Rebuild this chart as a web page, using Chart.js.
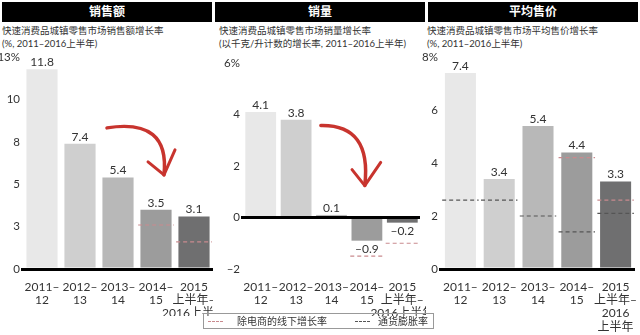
<!DOCTYPE html>
<html>
<head>
<meta charset="utf-8">
<script src="https://cdn.jsdelivr.net/npm/chart.js@4"></script>
<style>
  body { margin: 0; background: #fff; width: 640px; height: 335px; position: relative; overflow: hidden;
         font-family: Lato, 'Noto Sans CJK SC', sans-serif; color: #333; }
  .hd { position: absolute; top: 2px; height: 20px; background: #000; color: #fff; font-weight: bold;
        font-size: 12px; line-height: 20px; text-align: center; }
  .sub { position: absolute; top: 24px; font-size: 9.5px; line-height: 13px; white-space: nowrap; color: #333; }
  canvas { position: absolute; }
  .legend { position: absolute; left: 203px; top: 313px; width: 231px; height: 16px; border: 1px solid #999;
            box-sizing: border-box; font-size: 10px; line-height: 14px; white-space: nowrap; }
  .legend span { position: absolute; top: 0; }
  .legend i { position: absolute; top: 7px; width: 15px; border-top: 1px dashed; }
</style>
</head>
<body>
<div class="hd" style="left:2px;width:210px">销售额</div>
<div class="hd" style="left:215px;width:210px">销量</div>
<div class="hd" style="left:428px;width:210px">平均售价</div>

<div class="sub" style="left:2px">快速消费品城镇零售市场销售额增长率<br>(%, 2011–2016上半年)</div>
<div class="sub" style="left:219px">快速消费品城镇零售市场销量增长率<br>(以千克/升计数的增长率, 2011–2016上半年)</div>
<div class="sub" style="left:427px">快速消费品城镇零售市场平均售价增长率<br>(%, 2011–2016上半年)</div>

<canvas id="c1" width="213" height="276" style="left:0;top:40px"></canvas>
<canvas id="c2" width="213" height="276" style="left:213px;top:40px"></canvas>
<canvas id="c3" width="218" height="292" style="left:422px;top:40px"></canvas>

<div class="legend">
  <i style="left:4px;color:#c98a8e"></i><span style="left:33px">除电商的线下增长率</span>
  <i style="left:151px;color:#555"></i><span style="left:174px">通货膨胀率</span>
</div>

<script>
// Kategoriat
const categories = [['2011–', '12'], ['2012–', '13'], ['2013–', '14'], ['2014–', '15'], ['2015', '上半年–', '2016上半年']];
const categories3 = [['2011–', '12'], ['2012–', '13'], ['2013–', '14'], ['2014–', '15'], ['2015', '上半年–', '2016', '上半年']];

// Sarjat
const salesValue = [11.8, 7.4, 5.4, 3.5, 3.1];
const salesVolume = [4.1, 3.8, 0.1, -0.9, -0.2];
const avgPrice = [7.4, 3.4, 5.4, 4.4, 3.3];

// Katkoviivat: verkkokaupaton kasvu ja inflaatio
const offlineValue = [null, null, null, 2.6, 1.6];
const offlineVolume = [null, null, null, -1.5, -1.0];
const offlinePrice = [null, null, null, 4.2, 2.6];
const inflationPrice = [2.6, 2.6, 2.0, 1.4, 2.1];

const barColors = ['#e8e8e8', '#cfcfcf', '#b8b8b8', '#9c9c9c', '#6f6f70'];
const font = "Lato, 'Noto Sans CJK SC', sans-serif";

const fmt = v => (v < 0 ? '–' + Math.abs(v) : String(v));

// Tehdään katkoviivasegmentit kategorioiden kohdalle
const segments = arr => {
  const pts = [];
  arr.forEach((v, i) => {
    if (v === null) return;
    pts.push({ x: i - 0.47, y: v }, { x: i + 0.47, y: v }, { x: i + 0.5, y: null });
  });
  return pts;
};

// Arvot pylväiden päälle
const valueLabels = {
  id: 'valueLabels',
  afterDatasetsDraw(chart) {
    const ctx = chart.ctx;
    const meta = chart.getDatasetMeta(0);
    const data = chart.data.datasets[0].data;
    ctx.save();
    ctx.font = '12px ' + font;
    ctx.fillStyle = '#333';
    ctx.textAlign = 'center';
    ctx.textBaseline = 'middle';
    meta.data.forEach((bar, i) => {
      const v = data[i];
      ctx.fillText(fmt(v), bar.x, v >= 0 ? bar.y - 7 : bar.y + 8);
    });
    ctx.restore();
  }
};

// Punainen kaarinuoli (koriste)
const arrowPlugin = spec => ({
  id: 'arrow',
  afterDatasetsDraw(chart) {
    if (!spec) return;
    const xs = chart.scales.xl, ys = chart.scales.y;
    const p = o => [xs.getPixelForValue(o.x), ys.getPixelForValue(o.y)];
    const [sx, sy] = p(spec.start), [cx, cy] = p(spec.ctrl), [tx, ty] = p(spec.tip);
    const [lx, ly] = p(spec.armL), [rx, ry] = p(spec.armR);
    const ctx = chart.ctx;
    ctx.save();
    ctx.strokeStyle = '#c8342e';
    ctx.lineCap = 'round';
    ctx.lineJoin = 'round';
    ctx.lineWidth = 3.5;
    ctx.beginPath();
    ctx.moveTo(sx, sy);
    ctx.quadraticCurveTo(cx, cy, tx, ty);
    ctx.stroke();
    ctx.lineWidth = 3;
    ctx.beginPath();
    ctx.moveTo(lx, ly);
    ctx.lineTo(tx, ty);
    ctx.lineTo(rx, ry);
    ctx.stroke();
    ctx.restore();
  }
});

const makePanel = (id, cfg) => {
  const datasets = [{
    type: 'bar',
    data: cfg.values,
    backgroundColor: barColors,
    categoryPercentage: 1,
    barPercentage: cfg.barPct,
    grouped: false,
    xAxisID: 'x',
    order: 1
  }];
  cfg.lines.forEach(l => datasets.push({
    type: 'line',
    data: segments(l.data),
    xAxisID: 'xl',
    borderColor: l.color,
    borderWidth: 1.2,
    borderDash: [4, 3],
    pointRadius: 0,
    spanGaps: false,
    fill: false,
    order: 0
  }));

  new Chart(document.getElementById(id), {
    data: { labels: cfg.labels, datasets },
    options: {
      responsive: false,
      animation: false,
      layout: { padding: { top: cfg.top, right: cfg.right, left: 0, bottom: 0 } },
      plugins: { legend: { display: false }, tooltip: { enabled: false } },
      scales: {
        x: {
          type: 'category',
          offset: true,
          grid: { display: false },
          border: { display: false },
          ticks: {
            autoSkip: false, maxRotation: 0, minRotation: 0, padding: 3,
            color: '#333', font: { family: font, size: 12, lineHeight: 1.12 }
          },
          afterFit: s => { s.height = cfg.xH; s.paddingLeft = 0; s.paddingRight = 0; }
        },
        xl: { type: 'linear', display: false, min: -0.5, max: 4.5 },
        y: {
          min: cfg.min, max: cfg.max,
          border: { display: false },
          grid: {
            color: c => (c.tick && c.tick.value === 0 ? '#000' : 'rgba(0,0,0,0)'),
            lineWidth: 3,
            drawTicks: true,
            tickLength: 2
          },
          ticks: {
            stepSize: cfg.step, padding: 1, color: '#333',
            includeBounds: cfg.pctAt === cfg.max,
            font: { family: font, size: 11.5 },
            callback: v => {
              if (v > cfg.pctAt + 1e-6) return '';
              const t = Math.round(v);
              const s = t < 0 ? '–' + Math.abs(t) : String(t);
              return Math.abs(v - cfg.pctAt) < 1e-6 ? s + '%' : s;
            }
          },
          afterFit: s => { s.width = cfg.yW; s.paddingTop = 0; s.paddingBottom = 0; }
        }
      }
    },
    plugins: [valueLabels, arrowPlugin(cfg.arrow)]
  });
};

makePanel('c1', {
  labels: categories, values: salesValue, barPct: 0.82,
  lines: [{ data: offlineValue, color: '#c98a8e' }],
  min: 0, max: 13, step: 2.5, pctAt: 12.5, top: 9, right: 0, yW: 23, xH: 47,
  arrow: {
    start: { x: 1.71, y: 8.34 }, ctrl: { x: 3.37, y: 8.93 }, tip: { x: 3.21, y: 5.56 },
    armL: { x: 2.79, y: 6.33 }, armR: { x: 3.5, y: 7.04 }
  }
});

makePanel('c2', {
  labels: categories, values: salesVolume, barPct: 0.87,
  lines: [{ data: offlineVolume, color: '#c98a8e' }],
  min: -2, max: 6, step: 2, pctAt: 6, top: 23, right: 6, yW: 30, xH: 47,
  arrow: {
    start: { x: 1.7, y: 3.57 }, ctrl: { x: 3.14, y: 3.61 }, tip: { x: 2.94, y: 1.24 },
    armL: { x: 2.58, y: 1.86 }, armR: { x: 3.39, y: 2.14 }
  }
});

makePanel('c3', {
  labels: categories3, values: avgPrice, barPct: 0.8,
  lines: [{ data: offlinePrice, color: '#c98a8e' }, { data: inflationPrice, color: '#555' }],
  min: 0, max: 8, step: 2, pctAt: 8, top: 17, right: 5, yW: 19, xH: 63,
  arrow: null
});
</script>
</body>
</html>
